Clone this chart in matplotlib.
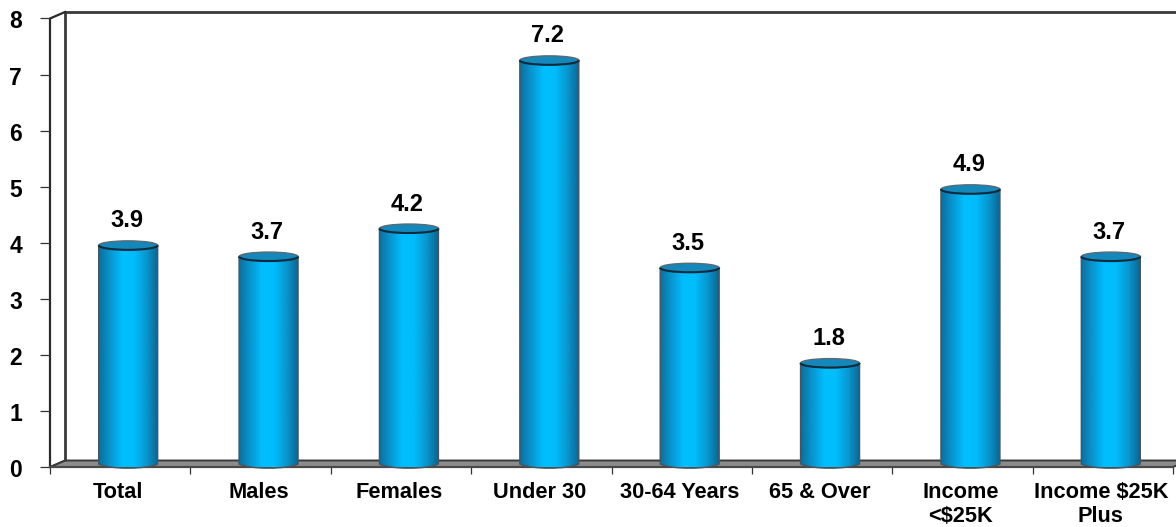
import numpy as np
import matplotlib
matplotlib.use("Agg")
import matplotlib.pyplot as plt
from matplotlib.colors import LinearSegmentedColormap
from matplotlib.patches import Arc, Ellipse, Polygon, PathPatch
from matplotlib.path import Path
from matplotlib.transforms import ScaledTranslation

categories = ["Total", "Males", "Females", "Under 30", "30-64 Years", "65 & Over", "Income\n<$25K", "Income $25K\nPlus"]
values = [3.9, 3.7, 4.2, 7.2, 3.5, 1.8, 4.9, 3.7]
y_ticks = [0, 1, 2, 3, 4, 5, 6, 7, 8]

W, H = 1176, 527
plt.rcParams["font.family"] = ["Liberation Sans", "DejaVu Sans"]
fig = plt.figure(figsize=(W / 100, H / 100), dpi=100)
L, R, B, T = 50, 1173, 467, 18.5
ax = fig.add_axes([L / W, 1 - B / H, (R - L) / W, (B - T) / H])
n = len(categories)
ax.set_xlim(-0.5, n - 0.5)
ax.set_ylim(0, 8)
ax.patch.set_visible(False)
for s in ax.spines.values():
    s.set_visible(False)

px = n / (R - L)            # x data units per pixel
py = 8 / (B - T)            # y data units per pixel
dx, dy = 15 * px, 6.5 * py  # depth of the pseudo-3D box
ax.add_patch(Polygon([(-0.5, 0), (-0.5 + dx, dy), (n - 0.5 + dx, dy), (n - 0.5, 0)],
                     closed=True, fc="#8c8c8c", ec="#3a3a3a", lw=1.4, clip_on=False, zorder=1))
ax.plot([-0.5 + dx, -0.5 + dx, n - 0.5 + 2 * dx], [dy, 8 + dy, 8 + dy], color="#3a3a3a", lw=2, clip_on=False, zorder=1, solid_capstyle="butt")
ax.plot([-0.5, -0.5, -0.5 + dx], [0, 8, 8 + dy], color="#2a2a2a", lw=1.6, clip_on=False, zorder=1)
ax.plot([-0.5, -0.5 + dx], [0, dy], color="#3a3a3a", lw=1.2, clip_on=False, zorder=1)
ax.plot([-0.5, n - 0.5], [0, 0], color="#4a4a4a", lw=1.6, clip_on=False, zorder=2)

cmap = LinearSegmentedColormap.from_list("cyl", ["#0a6f9f", "#0a97d0", "#00bfff", "#00bcfa", "#0a97cf", "#0a6692"])
grad = np.linspace(0, 1, 256).reshape(1, -1)
bw = 59 * px
shift = 8 * px
off = 3 * py
eh = 9 * py
for i, v in enumerate(values):
    c = i + shift
    x0, x1 = c - bw / 2, c + bw / 2
    top = v + off
    base = off
    verts = [(x0, top), (x0, base), (x0 + bw * 0.2, base - eh * 0.62), (x1 - bw * 0.2, base - eh * 0.62), (x1, base), (x1, top), (x0, top)]
    codes = [Path.MOVETO, Path.LINETO, Path.CURVE4, Path.CURVE4, Path.CURVE4, Path.LINETO, Path.CLOSEPOLY]
    body = PathPatch(Path(verts, codes), fc="none", ec="#46565f", lw=1.0, zorder=4, clip_on=False)
    im = ax.imshow(grad, extent=(x0, x1, base - eh, top), cmap=cmap, aspect="auto", zorder=3, clip_on=True)
    ax.add_patch(body)
    im.set_clip_path(body.get_path(), transform=ax.transData)
    ax.add_patch(Ellipse((c, top), bw, eh, fc="#1487bb", ec="#5a6a72", lw=1.0, zorder=5, clip_on=False))
    ax.add_patch(Arc((c, top), bw, eh, theta1=180, theta2=360, color="#0b2a3d", lw=1.5, zorder=6, clip_on=False))
    ax.text(c - 1.5 * px, top + 13 * py, f"{v:.1f}", ha="center", va="bottom", fontsize=17, fontweight="bold", color="black", zorder=7, clip_on=False)
ax.set_xlim(-0.5, n - 0.5)
ax.set_ylim(0, 8)

ax.set_yticks(y_ticks)
ax.set_yticklabels([str(t) for t in y_ticks], fontsize=16.5, fontweight="bold")
ax.tick_params(axis="y", length=7, width=0.9, color="#333333", pad=13)
for lab in ax.get_yticklabels():
    lab.set_transform(lab.get_transform() + ScaledTranslation(0, -1 / 100, fig.dpi_scale_trans))
ax.set_xticks(np.arange(n + 1) - 0.5, minor=True)
ax.set_xticks(np.arange(n))
ax.set_xticklabels(categories, fontsize=15.7, fontweight="bold", linespacing=1.16)
ax.tick_params(axis="x", which="major", length=0, pad=11)
ax.tick_params(axis="x", which="minor", length=5, width=0.9, color="#333333")
for lab in ax.get_xticklabels():
    lab.set_transform(lab.get_transform() + ScaledTranslation(-2 / 100, 0, fig.dpi_scale_trans))
fig.savefig("out.png", dpi=100)
